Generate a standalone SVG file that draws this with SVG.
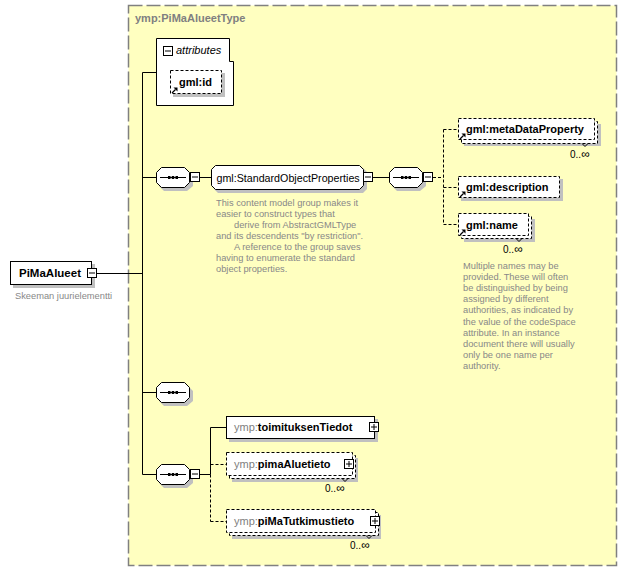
<svg xmlns="http://www.w3.org/2000/svg" width="627" height="571" viewBox="0 0 627 571">
<style>
.bg{fill:#ffffc0;stroke:#808080;stroke-width:1.5;stroke-dasharray:14 4}
.sh{fill:#c0c0c0}
.bx{fill:#fff;stroke:#000;stroke-width:1}
.dbx{fill:#fff;stroke:#000;stroke-width:1;stroke-dasharray:3 2}
.ln{fill:none;stroke:#000;stroke-width:1}
.dln{fill:none;stroke:#000;stroke-width:1;stroke-dasharray:3 2}
.t{font-family:"Liberation Sans",Arial,sans-serif;font-size:11px;fill:#000}
.b{font-weight:bold}
.g{fill:#808080}
.i{font-style:italic}
.d{font-family:"Liberation Sans",Arial,sans-serif;font-size:9.3px;fill:#888}
.o{font-family:"Liberation Sans",Arial,sans-serif;font-size:10px;fill:#000}
.inf{font-size:12px}
</style>
<defs>
<g id="minus"><rect class="bx" x="0.5" y="0.5" width="9" height="9"/><path class="ln" d="M2 5H8"/></g>
<g id="plus"><rect class="bx" x="0.5" y="0.5" width="9" height="9"/><path class="ln" d="M2 5H8M5 2V8"/></g>
<g id="ref"><path d="M1 6L4.5 2.5" stroke="#000" stroke-width="1.3" fill="none"/><path d="M2.5 0.5H6.5V4.5Z" fill="#000"/></g>
<g id="seq">
<polygon class="sh" points="8,3 31,3 37,9 37,19 31,24 8,24 3,19 3,9"/>
<polygon class="bx" points="5.5,0.5 28.5,0.5 33.5,5.5 33.5,15.5 28.5,20.5 5.5,20.5 0.5,15.5 0.5,5.5"/>
<path class="ln" d="M4 10.5H30"/>
<rect x="12" y="9" width="2.5" height="3"/><rect x="15.75" y="9" width="2.5" height="3"/><rect x="19.5" y="9" width="2.5" height="3"/>
</g>
</defs>

<rect class="bg" x="128.5" y="5.5" width="488" height="560"/>
<text class="t b g" x="135" y="22">ymp:PiMaAlueetType</text>

<g id="connectors">
<path class="ln" d="M97 273.5H142.5M142.5 72.5V474.5M142.5 72.5H156M142.5 177.5H156M142.5 392.5H156M142.5 474.5H156"/>
<path class="ln" d="M200 177.5H211M373 177.5H389"/>
<path class="dln" d="M433 177.5H443.5M443.5 129.5V224.5M443.5 129.5H458M443.5 187.5H458M443.5 224.5H458"/>
<path class="ln" d="M200 474.5H210.5M210.5 427.5V474.5M210.5 427.5H226"/>
<path class="dln" d="M210.5 474.5V521.5M210.5 464.5H226M210.5 521.5H226"/>
</g>

<g id="PiMaAlueet">
<rect class="sh" x="13" y="264" width="82" height="24"/>
<rect class="bx" x="10.5" y="261.5" width="81" height="23"/>
<use href="#minus" x="87" y="268"/>
<text class="t b" x="19" y="277" style="font-size:11.5px">PiMaAlueet</text>
<text class="d" x="15" y="299">Skeeman juurielementti</text>
</g>

<g id="attributes">
<path class="bx" d="M156.5 38.5H229.5V61.5H233.5V105.5H156.5Z"/>
<use href="#minus" x="163" y="46"/>
<text class="t i" x="176" y="54">attributes</text>
</g>

<g id="gml_id">
<rect class="sh" x="173" y="73" width="52" height="24"/>
<rect class="dbx" x="170.5" y="70.5" width="51" height="23"/>
<use href="#ref" x="171" y="87"/>
<text class="t b" x="179" y="86">gml:id</text>
</g>

<g id="seq1">
<use href="#seq" x="156" y="167"/>
<use href="#minus" x="190" y="172"/>
</g>

<g id="StandardObjectProperties">
<polygon class="sh" points="218,168 363,168 367,172 367,189 363,193 218,193 214,189 214,172"/>
<polygon class="bx" points="215.5,165.5 359.5,165.5 363.5,169.5 363.5,185.5 359.5,189.5 215.5,189.5 211.5,185.5 211.5,169.5"/>
<use href="#minus" x="363" y="172"/>
<text class="t" x="216.5" y="182" style="font-size:10.7px">gml:StandardObjectProperties</text>
<text class="d" x="216" y="205.5">This content model group makes it</text>
<text class="d" x="216" y="216.5">easier to construct types that</text>
<text class="d" x="234" y="227.5">derive from AbstractGMLType</text>
<text class="d" x="216" y="238.5">and its descendents "by restriction".</text>
<text class="d" x="234" y="249.5">A reference to the group saves</text>
<text class="d" x="216" y="260.5">having to enumerate the standard</text>
<text class="d" x="216" y="271.5">object properties.</text>
</g>

<g id="seq2">
<use href="#seq" x="389" y="167"/>
<use href="#minus" x="423" y="172"/>
</g>

<g id="metaDataProperty">
<rect class="sh" x="464" y="124" width="137" height="22"/>
<rect class="dbx" x="461.5" y="121.5" width="136" height="22"/>
<rect class="dbx" x="458.5" y="118.5" width="136" height="21"/>
<path class="ln" d="M582 143.5L585 146.5L588 143.5"/>
<use href="#ref" x="459" y="133"/>
<text class="t b" x="466" y="133">gml:metaDataProperty</text>
<text class="o" x="570" y="158">0..<tspan class="inf">∞</tspan></text>
</g>

<g id="description">
<rect class="sh" x="461" y="179" width="102" height="22"/>
<rect class="dbx" x="458.5" y="176.5" width="101" height="21"/>
<use href="#ref" x="459" y="191"/>
<text class="t b" x="466" y="191">gml:description</text>
</g>

<g id="name">
<rect class="sh" x="464" y="219" width="71" height="23"/>
<rect class="dbx" x="461.5" y="216.5" width="70" height="22"/>
<rect class="dbx" x="458.5" y="213.5" width="70" height="22"/>
<path class="ln" d="M516 238.5L519 241.5L522 238.5"/>
<use href="#ref" x="459" y="229"/>
<text class="t b" x="466" y="229">gml:name</text>
<text class="o" x="503" y="253">0..<tspan class="inf">∞</tspan></text>
<text class="d" x="463" y="269">Multiple names may be</text>
<text class="d" x="463" y="280.1">provided.  These will often</text>
<text class="d" x="463" y="291.2">be distinguished by being</text>
<text class="d" x="463" y="302.3">assigned by different</text>
<text class="d" x="463" y="313.4">authorities, as indicated by</text>
<text class="d" x="463" y="324.5">the value of the codeSpace</text>
<text class="d" x="463" y="335.6">attribute.  In an instance</text>
<text class="d" x="463" y="346.7">document there will usually</text>
<text class="d" x="463" y="357.8">only be one name per</text>
<text class="d" x="463" y="368.9">authority.</text>
</g>

<g id="seq3">
<use href="#seq" x="156" y="382"/>
</g>

<g id="seq4">
<use href="#seq" x="156" y="464"/>
<use href="#minus" x="190" y="469"/>
</g>

<g id="toimituksenTiedot">
<rect class="sh" x="229" y="419" width="149" height="23"/>
<rect class="bx" x="226.5" y="416.5" width="148" height="22"/>
<use href="#plus" x="369" y="422"/>
<text class="t" x="234" y="431"><tspan class="g">ymp:</tspan><tspan class="b">toimituksenTiedot</tspan></text>
</g>

<g id="pimaAluetieto">
<rect class="sh" x="232" y="458" width="126" height="24"/>
<rect class="dbx" x="229.5" y="455.5" width="126" height="23"/>
<rect class="dbx" x="226.5" y="452.5" width="126" height="23"/>
<path class="ln" d="M342 478.5L345 481.5L348 478.5"/>
<use href="#plus" x="344" y="459"/>
<text class="t" x="234" y="468"><tspan class="g">ymp:</tspan><tspan class="b">pimaAluetieto</tspan></text>
<text class="o" x="325" y="492">0..<tspan class="inf">∞</tspan></text>
</g>

<g id="piMaTutkimustieto">
<rect class="sh" x="232" y="515" width="149" height="24"/>
<rect class="dbx" x="229.5" y="512.5" width="149" height="23"/>
<rect class="dbx" x="226.5" y="509.5" width="149" height="23"/>
<path class="ln" d="M366 535.5L369 538.5L372 535.5"/>
<use href="#plus" x="370" y="516"/>
<text class="t" x="234" y="525"><tspan class="g">ymp:</tspan><tspan class="b">piMaTutkimustieto</tspan></text>
<text class="o" x="350" y="549">0..<tspan class="inf">∞</tspan></text>
</g>
</svg>
